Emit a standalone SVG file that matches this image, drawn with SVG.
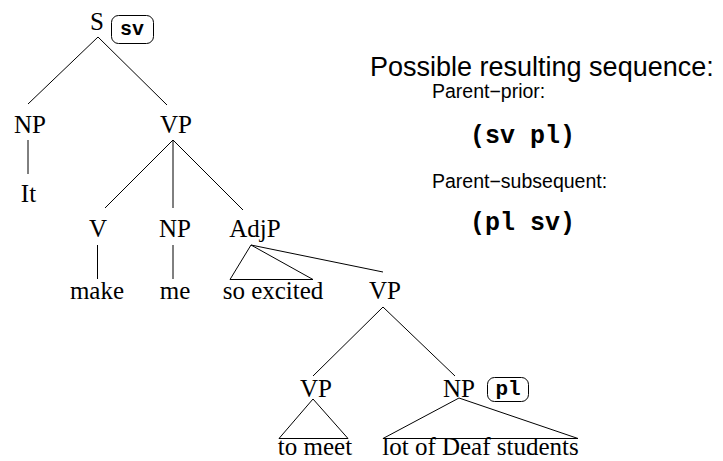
<svg xmlns="http://www.w3.org/2000/svg" width="723" height="461" viewBox="0 0 723 461">
<style>
.t{font-family:"Liberation Serif","Times New Roman",serif;font-size:25px;fill:#000;text-anchor:middle}
.m{font-family:"Liberation Mono","Courier New",monospace;font-weight:bold;fill:#000}
.s{font-family:"Liberation Sans",Arial,sans-serif;fill:#000}
.box{fill:none;stroke:#000;stroke-width:1}
.e line,.e polyline,.e polygon{stroke:#000;stroke-width:1;fill:none}
</style>
<rect width="723" height="461" fill="#fff"/>
<g id="connectors" class="e">
<line x1="98" y1="37" x2="28" y2="104"/>
<line x1="98" y1="37" x2="167" y2="105"/>
<line x1="28" y1="140" x2="28" y2="174"/>
<line x1="173" y1="140" x2="105" y2="208"/>
<line x1="173" y1="140" x2="173" y2="208"/>
<line x1="173" y1="140" x2="243" y2="210"/>
<line x1="97.5" y1="245" x2="97.5" y2="279"/>
<line x1="173" y1="245" x2="173" y2="279"/>
<polygon points="251,245 230,279.5 313,279.5"/>
<line x1="251" y1="245" x2="383" y2="272"/>
<line x1="383" y1="307" x2="313" y2="376"/>
<line x1="383" y1="307" x2="455" y2="376"/>
<polygon points="313,399 279,438.5 348,438.5"/>
<polygon points="459,398 383,438.5 578,438.5"/>
</g>
<g id="S"><text class="t" x="97" y="30">S</text><rect class="box" x="111.5" y="15.5" width="42" height="28" rx="7"/><text class="m" x="132" y="35" font-size="20" text-anchor="middle">sv</text></g>
<g id="NP1"><text class="t" x="30" y="133">NP</text></g>
<g id="It"><text class="t" x="28.5" y="202">It</text></g>
<g id="VP1"><text class="t" x="176" y="133">VP</text></g>
<g id="V"><text class="t" x="98" y="237">V</text></g>
<g id="make"><text class="t" x="97" y="299">make</text></g>
<g id="NP2"><text class="t" x="175" y="237">NP</text></g>
<g id="me"><text class="t" x="175" y="299">me</text></g>
<g id="AdjP"><text class="t" x="255" y="237">AdjP</text></g>
<g id="soexcited"><text class="t" x="273" y="299">so excited</text></g>
<g id="VP2"><text class="t" x="385" y="299">VP</text></g>
<g id="VP3"><text class="t" x="316" y="397">VP</text></g>
<g id="tomeet"><text class="t" x="315" y="455">to meet</text></g>
<g id="NP3"><text class="t" x="459" y="397">NP</text><rect class="box" x="487.5" y="377.5" width="41" height="24" rx="7"/><text class="m" x="508" y="395" font-size="21" text-anchor="middle">pl</text></g>
<g id="students"><text class="t" x="480.5" y="455">lot of Deaf students</text></g>
<g id="legend">
<text class="s" x="370" y="76" font-size="27">Possible resulting sequence:</text>
<text class="s" x="432" y="98" font-size="19.5">Parent−prior:</text>
<text class="m" x="470" y="143" font-size="25">(sv pl)</text>
<text class="s" x="432" y="188" font-size="19.5">Parent−subsequent:</text>
<text class="m" x="470" y="230" font-size="25">(pl sv)</text>
</g>
</svg>
